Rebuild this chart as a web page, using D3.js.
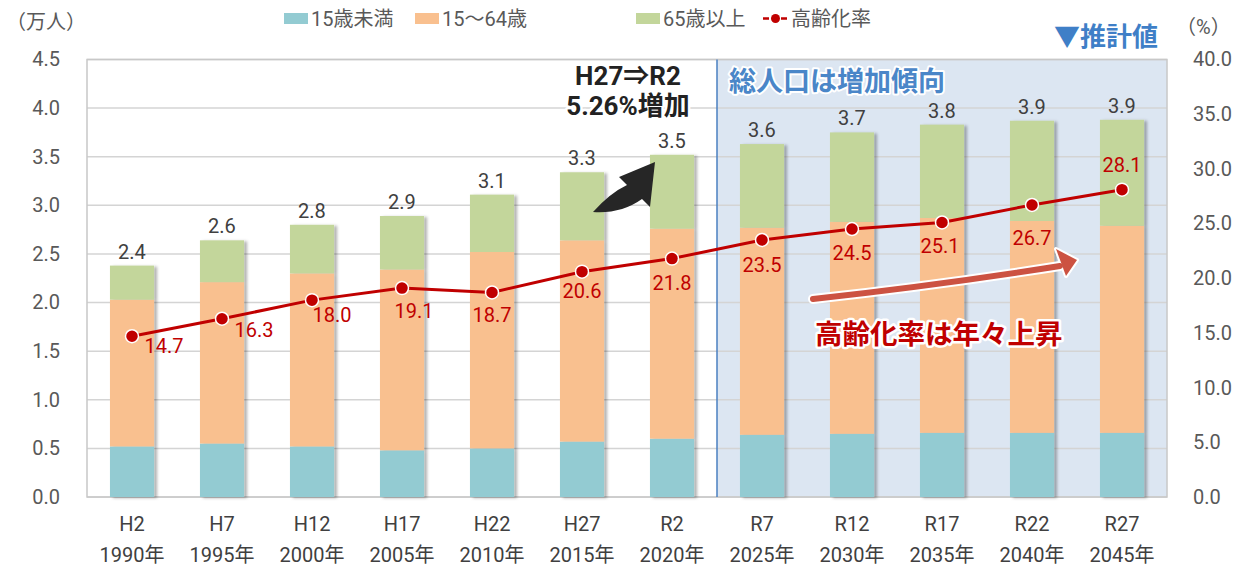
<!DOCTYPE html>
<html>
<head>
<meta charset="utf-8">
<script src="https://cdn.jsdelivr.net/npm/d3@7"></script>
<style>
  body { margin: 0; background: #fff; }
  text { font-family: Roboto, "Noto Sans CJK JP", sans-serif; }
</style>
</head>
<body>
<svg id="chart" width="1234" height="570"></svg>
<script>
// データ
const eras = ["H2", "H7", "H12", "H17", "H22", "H27", "R2", "R7", "R12", "R17", "R22", "R27"];
const years = ["1990年", "1995年", "2000年", "2005年", "2010年", "2015年", "2020年", "2025年", "2030年", "2035年", "2040年", "2045年"];
const under15 = [0.52, 0.55, 0.52, 0.48, 0.50, 0.57, 0.60, 0.64, 0.65, 0.66, 0.66, 0.66];
const age15to64 = [1.51, 1.66, 1.78, 1.86, 2.02, 2.07, 2.16, 2.13, 2.18, 2.21, 2.18, 2.13];
const over65 = [0.35, 0.43, 0.50, 0.55, 0.59, 0.70, 0.76, 0.86, 0.92, 0.96, 1.03, 1.09];
const totalLabels = ["2.4", "2.6", "2.8", "2.9", "3.1", "3.3", "3.5", "3.6", "3.7", "3.8", "3.9", "3.9"];
const agingRate = [14.7, 16.3, 18.0, 19.1, 18.7, 20.6, 21.8, 23.5, 24.5, 25.1, 26.7, 28.1];
const seriesNames = ["15歳未満", "15～64歳", "65歳以上"];
const lineName = "高齢化率";
const leftTicks = [0, 0.5, 1, 1.5, 2, 2.5, 3, 3.5, 4, 4.5];
const rightTicks = [0, 5, 10, 15, 20, 25, 30, 35, 40];
const firstEstimate = "R7"; // 推計値の開始

const colors = ["#93cbd2", "#f9c08f", "#c3d69b"];
const red = "#c00000";

const svg = d3.select("#chart");
const plot = { left: 87, right: 1167, top: 59.5, bottom: 497 };

const x = d3.scaleBand().domain(eras).range([plot.left, plot.right]).paddingInner(0.51).paddingOuter(0.255);
const y = d3.scaleLinear().domain([0, 4.5]).range([plot.bottom, plot.top]);
const yR = d3.scaleLinear().domain([0, 40]).range([plot.bottom, plot.top]);

const defs = svg.append("defs");
defs.append("filter").attr("id", "shadow").attr("x", "-20%").attr("width", "150%")
  .append("feDropShadow").attr("dx", 3).attr("dy", 1).attr("stdDeviation", 1.5)
  .attr("flood-color", "#000").attr("flood-opacity", 0.3);

// 推計値の背景
const estX = x(firstEstimate) - x.step() * x.paddingInner() / 2;
svg.append("rect").attr("x", estX).attr("y", plot.top).attr("width", plot.right - estX).attr("height", plot.bottom - plot.top)
  .attr("fill", "#dce6f2");

// グリッド線
svg.append("g").selectAll("line").data(leftTicks).join("line")
  .attr("x1", plot.left).attr("x2", plot.right)
  .attr("y1", d => y(d)).attr("y2", d => y(d))
  .attr("stroke", "#d4d4d4").attr("stroke-width", 1.5);
svg.append("rect").attr("x", plot.left).attr("y", plot.top).attr("width", plot.right - plot.left).attr("height", plot.bottom - plot.top)
  .attr("fill", "none").attr("stroke", "#c8c8c8").attr("stroke-width", 1.5);
svg.append("line").attr("x1", estX).attr("x2", estX).attr("y1", plot.top).attr("y2", plot.bottom)
  .attr("stroke", "#4a7fc1").attr("stroke-width", 1.5);

// 積み上げ棒
const rows = eras.map((e, i) => ({ era: e, a: under15[i], b: age15to64[i], c: over65[i] }));
const stacked = d3.stack().keys(["a", "b", "c"])(rows);

svg.append("g").attr("filter", "url(#shadow)")
  .selectAll("g").data(stacked).join("g")
  .attr("fill", (d, i) => colors[i])
  .selectAll("rect").data(d => d).join("rect")
  .attr("x", d => x(d.data.era))
  .attr("width", x.bandwidth())
  .attr("y", d => y(d[1]))
  .attr("height", d => y(d[0]) - y(d[1]));

// 合計ラベル
svg.append("g").selectAll("text").data(rows).join("text")
  .attr("x", d => x(d.era) + x.bandwidth() / 2)
  .attr("y", d => y(d.a + d.b + d.c) - 7)
  .attr("text-anchor", "middle")
  .attr("font-size", 20).attr("fill", "#404040")
  .text((d, i) => totalLabels[i]);

// 高齢化率の線
const lineGen = d3.line().x((d, i) => x(eras[i]) + x.bandwidth() / 2).y(d => yR(d));
svg.append("path").datum(agingRate).attr("d", lineGen)
  .attr("fill", "none").attr("stroke", red).attr("stroke-width", 3);
svg.append("g").selectAll("circle").data(agingRate).join("circle")
  .attr("cx", (d, i) => x(eras[i]) + x.bandwidth() / 2)
  .attr("cy", d => yR(d))
  .attr("r", 6.5).attr("fill", red).attr("stroke", "#fff").attr("stroke-width", 1.5);

// ラベルの配置 (点からのずれ)
const rateLabelOffset = [[32, 17], [32, 18], [20, 22], [12, 30], [0, 30], [0, 26], [0, 31], [0, 32], [0, 31], [-2, 31], [0, 40], [0, -18]];
svg.append("g").selectAll("text").data(agingRate).join("text")
  .attr("x", (d, i) => x(eras[i]) + x.bandwidth() / 2 + rateLabelOffset[i][0])
  .attr("y", (d, i) => yR(d) + rateLabelOffset[i][1])
  .attr("text-anchor", "middle")
  .attr("font-size", 20).attr("fill", red)
  .text(d => d.toFixed(1));

// 軸
const axisL = svg.append("g").attr("transform", `translate(${plot.left - 24},0)`)
  .call(d3.axisLeft(y).tickValues(leftTicks).tickFormat(d3.format(".1f")).tickSize(0));
const axisR = svg.append("g").attr("transform", `translate(${plot.right + 23},0)`)
  .call(d3.axisRight(yR).tickValues(rightTicks).tickFormat(d3.format(".1f")).tickSize(0));
[axisL, axisR].forEach(a => {
  a.select(".domain").remove();
  a.selectAll("text").attr("font-size", 20).attr("fill", "#595959")
    .attr("font-family", 'Roboto, "Noto Sans CJK JP", sans-serif');
});

const axisB = svg.append("g").attr("transform", `translate(0,${plot.bottom})`)
  .call(d3.axisBottom(x).tickSize(0).tickFormat(""));
axisB.select(".domain").remove();
axisB.selectAll(".tick").each(function(d, i) {
  const t = d3.select(this).append("text").attr("fill", "#404040").attr("font-size", 20)
    .attr("text-anchor", "middle").attr("font-family", 'Roboto, "Noto Sans CJK JP", sans-serif');
  t.append("tspan").attr("x", 0).attr("y", 34).text(eras[i]);
  t.append("tspan").attr("x", 0).attr("y", 65).text(years[i]);
});

// 単位
svg.append("text").attr("x", 6).attr("y", 29).attr("font-size", 20).attr("fill", "#595959").text("（万人）");
svg.append("text").attr("x", 1176).attr("y", 34).attr("font-size", 20).attr("fill", "#595959").text("（%）");

// 凡例
const legendItems = [
  { name: seriesNames[0], color: colors[0], x: 284 },
  { name: seriesNames[1], color: colors[1], x: 415 },
  { name: seriesNames[2], color: colors[2], x: 636 },
];
const legend = svg.append("g");
legendItems.forEach(it => {
  legend.append("rect").attr("x", it.x).attr("y", 13).attr("width", 24).attr("height", 11).attr("fill", it.color);
  legend.append("text").attr("x", it.x + 27).attr("y", 26).attr("font-size", 20).attr("fill", "#595959").text(it.name);
});
legend.append("line").attr("x1", 763).attr("x2", 788).attr("y1", 18.5).attr("y2", 18.5)
  .attr("stroke", red).attr("stroke-width", 2.5).attr("stroke-dasharray", "6,3");
legend.append("circle").attr("cx", 775.5).attr("cy", 18.5).attr("r", 4.5).attr("fill", red);
legend.append("text").attr("x", 791).attr("y", 26).attr("font-size", 20).attr("fill", "#595959").text(lineName);

// 注記
svg.append("text").attr("x", 1054).attr("y", 46).attr("font-size", 26).attr("font-weight", "bold")
  .attr("fill", "#3f7fc7").text("▼推計値");

svg.append("text").attr("x", 729).attr("y", 91).attr("font-size", 27).attr("font-weight", "bold")
  .attr("fill", "#4a86c8").attr("stroke", "#fff").attr("stroke-width", 4).attr("paint-order", "stroke")
  .attr("stroke-linejoin", "round").text("総人口は増加傾向");

const note = svg.append("g").attr("font-size", 26).attr("font-weight", "bold").attr("fill", "#222")
  .attr("text-anchor", "middle")
  .attr("stroke", "#fff").attr("stroke-width", 5).attr("paint-order", "stroke").attr("stroke-linejoin", "round");
note.append("text").attr("x", 628).attr("y", 85).text("H27⇒R2");
note.append("text").attr("x", 628).attr("y", 115).text("5.26%増加");

svg.append("path")
  .attr("d", "M593,212 Q610,193 627,185 L619,177 L655,162 L650,207 L642,199 Q621,214 593,212 Z")
  .attr("fill", "#262626");

// 高齢化率の矢印
const arrowPath = "M813,299 Q940,285 1060,266";
svg.append("path").attr("d", arrowPath).attr("fill", "none").attr("stroke", "#fff").attr("stroke-width", 10).attr("stroke-linecap", "round");
svg.append("path").attr("d", "M1077,260 L1056,249 L1066,276 Z").attr("fill", "#fff").attr("stroke", "#fff").attr("stroke-width", 4).attr("stroke-linejoin", "round");
svg.append("path").attr("d", arrowPath).attr("fill", "none").attr("stroke", "#cc5242").attr("stroke-width", 6).attr("stroke-linecap", "round");
svg.append("path").attr("d", "M1077,260 L1056,249 L1066,276 Z").attr("fill", "#cc5242");

svg.append("text").attr("x", 815).attr("y", 344).attr("font-size", 27.5).attr("font-weight", "bold")
  .attr("fill", red).attr("stroke", "#fff").attr("stroke-width", 5).attr("paint-order", "stroke")
  .attr("stroke-linejoin", "round").text("高齢化率は年々上昇");
</script>
</body>
</html>
